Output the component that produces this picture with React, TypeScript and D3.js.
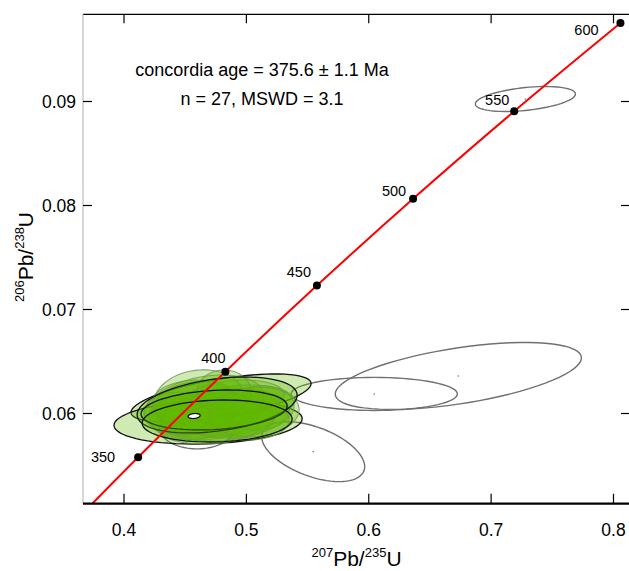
import React, { useRef, useEffect } from "react";
import * as d3 from "d3";

// concordia curve (207Pb/235U, 206Pb/238U)
const curveAge = [320, 350, 400, 450, 500, 550, 600];
const curveX = [0.3704, 0.41155, 0.48284, 0.55763, 0.63623, 0.71887, 0.80567];
const curveY = [0.05089, 0.0558, 0.06402, 0.0723, 0.08065, 0.08906, 0.09754];

// age marks shown as dots
const markAges = [350, 400, 450, 500, 550, 600];

// green ellipses: centre, half widths, correlation, outline colour
const gX = [0.4793, 0.4687, 0.4654, 0.4613, 0.4859, 0.4532, 0.4941, 0.4695, 0.4573, 0.5022, 0.4818, 0.445, 0.5104, 0.49, 0.4654, 0.4859, 0.4818, 0.4613, 0.5063, 0.4761, 0.4736, 0.4761];
const gY = [0.06149, 0.05918, 0.05986, 0.06034, 0.06014, 0.05957, 0.06082, 0.05861, 0.0613, 0.05938, 0.05986, 0.06014, 0.06053, 0.06149, 0.06082, 0.05938, 0.06207, 0.06130, 0.06014, 0.06082, 0.06034, 0.05928];
const gSx = [0.0736, 0.0769, 0.045, 0.0368, 0.0409, 0.0327, 0.045, 0.0409, 0.0344, 0.0327, 0.0532, 0.0286, 0.0286, 0.0409, 0.049, 0.0368, 0.0221, 0.0368, 0.0368, 0.0654, 0.0597, 0.0613];
const gSy = [0.00231, 0.00212, 0.0024, 0.0027, 0.0023, 0.00212, 0.00192, 0.00154, 0.00192, 0.00192, 0.0025, 0.00192, 0.00212, 0.00173, 0.00288, 0.00173, 0.00212, 0.0029, 0.0024, 0.00269, 0.00192, 0.00202];
const gRho = [0.6, 0.15, 0.1, 0.0, 0.15, 0.0, 0.2, 0.1, 0.1, 0.0, 0.2, 0.0, 0.1, 0.2, 0.3, 0.1, 0.0, 0.1, 0.1, 0.35, 0.2, 0.1];
const gDark = [1, 1, 0, 0, 0, 0, 0, 0, 0, 0, 0, 0, 0, 0, 0, 0, 0, 0, 0, 1, 1, 1];

// grey (rejected) ellipses
const rX = [0.728, 0.6732, 0.6045, 0.5546, 0.4597];
const rY = [0.09024, 0.06361, 0.06188, 0.05633, 0.0587];
const rSx = [0.0409, 0.1006, 0.0679, 0.0421, 0.031];
const rSy = [0.0012, 0.00322, 0.00159, 0.00288, 0.0021];
const rRho = [0.4, 0.54, 0.0, -0.5, 0.0];

// concordia age ellipse
const ageX = 0.4573, ageY = 0.05976, ageSx = 0.0049, ageSy = 0.00024, ageRho = 0.2;

const xTicks = [0.4, 0.5, 0.6, 0.7, 0.8];
const yTicks = [0.06, 0.07, 0.08, 0.09];
const labelDx = [-23, -12, -18, -19, -17, -34];
const labelDy = [0, -14, -14, -8, -11, 7];

const Concordia = () => {
  const svgRef = useRef(null);

  useEffect(() => {
    const svg = d3.select(svgRef.current);
    svg.selectAll("*").remove();

    const left = 83, right = 630, top = 14.3, bottom = 503.7;
    const x = d3.scaleLinear().domain([0.4, 0.8]).range([124, 613.5]);
    const y = d3.scaleLinear().domain([0.06, 0.09]).range([413.5, 101.5]);
    const font = "'Liberation Sans', Arial, sans-serif";

    svg.append("defs").append("clipPath").attr("id", "plotclip")
      .append("rect").attr("x", left).attr("y", top)
      .attr("width", right - left).attr("height", bottom - top);

    const plot = svg.append("g").attr("clip-path", "url(#plotclip)");

    const ellipse = (cx, cy, sx, sy, rho) => {
      const pts = d3.range(0, 73).map(i => {
        const t = (i / 72) * 2 * Math.PI;
        return [
          x(cx + sx * Math.cos(t)),
          y(cy + sy * (rho * Math.cos(t) + Math.sqrt(1 - rho * rho) * Math.sin(t)))
        ];
      });
      return d3.line().curve(d3.curveLinearClosed)(pts);
    };

    // grey ellipses
    rX.forEach((v, i) => {
      plot.append("path")
        .attr("d", ellipse(v, rY[i], rSx[i], rSy[i], rRho[i]))
        .attr("fill", "none")
        .attr("stroke", "#707070")
        .attr("stroke-width", 1.4);
      plot.append("circle")
        .attr("cx", x(v)).attr("cy", y(rY[i])).attr("r", 0.8)
        .attr("fill", "#777");
    });

    // green ellipses
    gX.forEach((v, i) => {
      plot.append("path")
        .attr("d", ellipse(v, gY[i], gSx[i], gSy[i], gRho[i]))
        .attr("fill", "#5fba00")
        .attr("fill-opacity", 0.3)
        .attr("stroke", gDark[i] ? "#111" : "#6f8f5a")
        .attr("stroke-opacity", gDark[i] ? 1 : 0.8)
        .attr("stroke-width", gDark[i] ? 1.3 : 1.1);
    });

    plot.append("path")
      .attr("d", ellipse(ageX, ageY, ageSx, ageSy, ageRho))
      .attr("fill", "#fff")
      .attr("stroke", "#000")
      .attr("stroke-width", 1.2);

    // concordia line
    const line = d3.line()
      .x((d, i) => x(curveX[i]))
      .y((d, i) => y(curveY[i]))
      .curve(d3.curveCatmullRom);
    plot.append("path")
      .attr("d", line(curveAge))
      .attr("fill", "none")
      .attr("stroke", "#ff0000")
      .attr("stroke-width", 2);

    markAges.forEach((age, i) => {
      const k = curveAge.indexOf(age);
      const px = x(curveX[k]), py = y(curveY[k]);
      svg.append("circle").attr("cx", px).attr("cy", py).attr("r", 4).attr("fill", "#000");
      svg.append("text")
        .attr("x", px + labelDx[i])
        .attr("y", py + labelDy[i] + 5)
        .attr("text-anchor", i === 0 ? "end" : "middle")
        .attr("font-family", font)
        .attr("font-size", 14.5)
        .text(age);
    });

    // frame
    svg.append("line").attr("x1", left).attr("x2", right).attr("y1", top).attr("y2", top)
      .attr("stroke", "#000").attr("stroke-width", 1.2);
    svg.append("line").attr("x1", left).attr("x2", left).attr("y1", top).attr("y2", bottom)
      .attr("stroke", "#b0b0b0").attr("stroke-width", 1);
    svg.append("line").attr("x1", left).attr("x2", right).attr("y1", bottom).attr("y2", bottom)
      .attr("stroke", "#000").attr("stroke-width", 2.2);

    // ticks
    xTicks.forEach(t => {
      svg.append("line").attr("x1", x(t)).attr("x2", x(t)).attr("y1", bottom).attr("y2", bottom - 10)
        .attr("stroke", "#000").attr("stroke-width", 1.2);
      svg.append("line").attr("x1", x(t)).attr("x2", x(t)).attr("y1", top).attr("y2", top + 9)
        .attr("stroke", "#000").attr("stroke-width", 1.2);
      svg.append("text")
        .attr("x", x(t)).attr("y", 536)
        .attr("text-anchor", "middle")
        .attr("font-family", font).attr("font-size", 17.5)
        .text(t.toFixed(1));
    });
    yTicks.forEach(t => {
      svg.append("line").attr("x1", left).attr("x2", left + 9).attr("y1", y(t)).attr("y2", y(t))
        .attr("stroke", "#000").attr("stroke-width", 1.2);
      svg.append("line").attr("x1", 621).attr("x2", right).attr("y1", y(t)).attr("y2", y(t))
        .attr("stroke", "#000").attr("stroke-width", 1.2);
      svg.append("text")
        .attr("x", 76).attr("y", y(t) + 6)
        .attr("text-anchor", "end")
        .attr("font-family", font).attr("font-size", 17.5)
        .text(t.toFixed(2));
    });

    // axis titles
    const xt = svg.append("text")
      .attr("x", (left + right) / 2).attr("y", 566)
      .attr("text-anchor", "middle")
      .attr("font-family", font).attr("font-size", 21);
    xt.append("tspan").attr("font-size", 13).attr("dy", -9).text("207");
    xt.append("tspan").attr("dy", 9).text("Pb/");
    xt.append("tspan").attr("font-size", 13).attr("dy", -9).text("235");
    xt.append("tspan").attr("dy", 9).text("U");

    const yt = svg.append("text")
      .attr("transform", `translate(33, ${(top + bottom) / 2 - 2}) rotate(-90)`)
      .attr("text-anchor", "middle")
      .attr("font-family", font).attr("font-size", 21);
    yt.append("tspan").attr("font-size", 13).attr("dy", -9).text("206");
    yt.append("tspan").attr("dy", 9).text("Pb/");
    yt.append("tspan").attr("font-size", 13).attr("dy", -9).text("238");
    yt.append("tspan").attr("dy", 9).text("U");

    // annotation
    svg.append("text")
      .attr("x", 262).attr("y", 76)
      .attr("text-anchor", "middle")
      .attr("font-family", font).attr("font-size", 18)
      .text("concordia age = 375.6 \u00B1 1.1 Ma");
    svg.append("text")
      .attr("x", 262).attr("y", 105)
      .attr("text-anchor", "middle")
      .attr("font-family", font).attr("font-size", 18)
      .text("n = 27, MSWD = 3.1");
  }, []);

  return (
    <svg ref={svgRef} width={629} height={571}
      style={{ position: "absolute", left: 0, top: 0, background: "#fff" }}></svg>
  );
};

export default function App() {
  return <Concordia />;
}
